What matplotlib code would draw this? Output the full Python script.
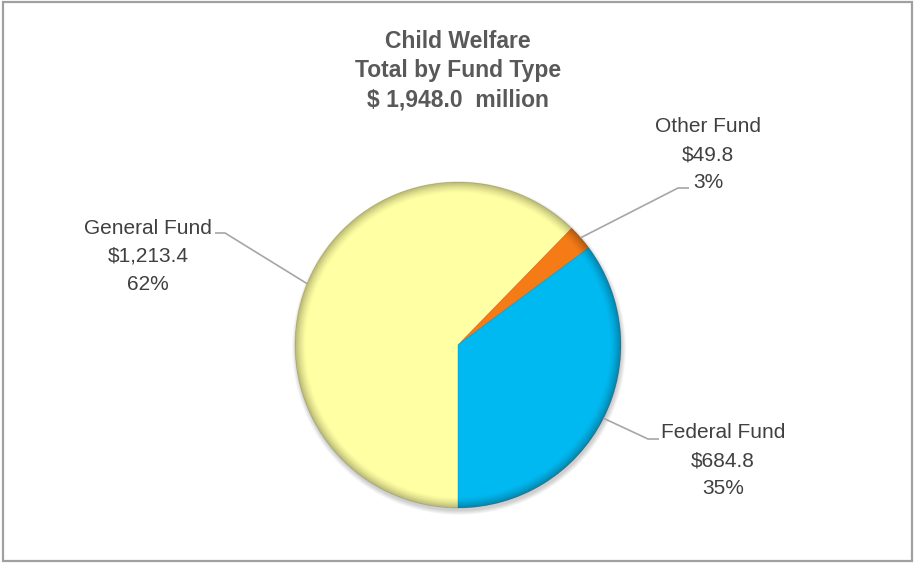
import numpy as np
import matplotlib.pyplot as plt
from matplotlib.patches import Circle, Rectangle

W, H = 914, 563

funds = ['General Fund', 'Other Fund', 'Federal Fund']
amounts = [1213.4, 49.8, 684.8]
colors = ['#FFFFA3', '#F47B16', '#00B9F1']

# label anchor (centre x, first baseline y) and leader elbow, in pixels from top-left
label_pos = [(148, 234), (708, 132), (723, 438)]
elbows = [((215, 233), (225, 233)), ((689, 188), (678, 188)), ((659, 439), (648, 439))]

cx, cy, R = 458, 345, 163

fig = plt.figure(figsize=(W / 100, H / 100), dpi=100)
ax = fig.add_axes([0, 0, 1, 1])

def Y(py):
    return H - py

# soft drop shadow under the pie
for k in range(8):
    ax.add_patch(Circle((cx + 1, Y(cy + 3)), R + 4 - k * 0.6, color='black',
                        alpha=0.025, lw=0, zorder=1))

wedges, _ = ax.pie(amounts, colors=colors, startangle=-90, counterclock=False,
                   center=(cx, Y(cy)), radius=R, frame=True,
                   wedgeprops=dict(linewidth=0.6, edgecolor='#00000022', zorder=2))

# darken the rim a little for the bevelled look
n = 400
xs = np.linspace(cx - R, cx + R, n)
ys = np.linspace(Y(cy) - R, Y(cy) + R, n)
gx, gy = np.meshgrid(xs, ys)
rr = np.hypot(gx - cx, gy - Y(cy)) / R
shade = np.zeros((n, n, 4))
shade[..., 3] = np.clip((rr - 0.93) / 0.07, 0, 1) ** 1.5 * 0.28
img = ax.imshow(shade, extent=(cx - R, cx + R, Y(cy) - R, Y(cy) + R),
                origin='lower', zorder=3, interpolation='bilinear')
img.set_clip_path(Circle((cx, Y(cy)), R, transform=ax.transData))

# title
total = sum(amounts)
title_lines = ['Child Welfare', 'Total by Fund Type', f'$ {total:,.1f}  million']
for i, line in enumerate(title_lines):
    ax.text(cx, Y(48 + i * 29.5), line, ha='center', va='baseline',
            fontsize=16.5, fontweight='bold', color='#595959',
            family=['Liberation Sans', 'DejaVu Sans'])

# labels with leader lines
theta = np.cumsum([0] + amounts) / total * 360.0
for i, (name, val) in enumerate(zip(funds, amounts)):
    mid = np.deg2rad(-90 - (theta[i] + theta[i + 1]) / 2)
    ex, ey = cx + R * np.cos(mid), Y(cy) + R * np.sin(mid)
    (x0, y0), (x1, y1) = elbows[i]
    ax.plot([x0, x1, ex], [Y(y0), Y(y1), ey], color='#A6A6A6', lw=1.2,
            zorder=4, solid_capstyle='butt')
    lx, ly = label_pos[i]
    lines = [name, f'${val:,.1f}', f'{val / total:.0%}']
    for j, line in enumerate(lines):
        ax.text(lx, Y(ly + j * 28), line, ha='center', va='baseline',
                fontsize=15, color='#404040',
                family=['Liberation Sans', 'DejaVu Sans'])

# outer border
ax.add_patch(Rectangle((3, Y(561)), 909, 559, fill=False, edgecolor='#A0A0A0',
                       lw=1.6, zorder=5))

ax.set_xlim(0, W)
ax.set_ylim(0, H)
ax.set_aspect('auto')
ax.axis('off')

fig.savefig('out.png', dpi=100, facecolor='white')
